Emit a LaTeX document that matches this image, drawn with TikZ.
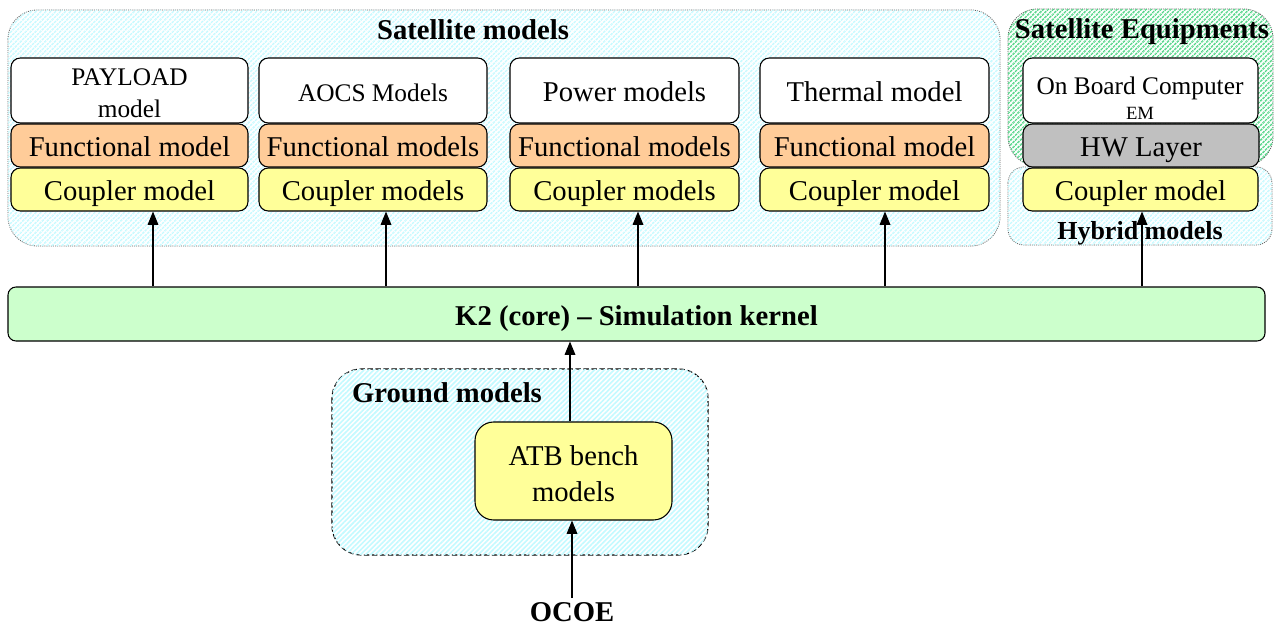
\documentclass[tikz,border=0pt]{standalone}
\usepackage{fontspec}
\setmainfont{Liberation Serif}
\usetikzlibrary{arrows.meta,patterns.meta}
\definecolor{orng}{HTML}{FFCC99}
\definecolor{yell}{HTML}{FFFF99}
\definecolor{hwgrey}{HTML}{C0C0C0}
\definecolor{kgreen}{HTML}{CCFFCC}
\definecolor{cyanline}{HTML}{C4FAFF}
\definecolor{grnline}{HTML}{4FD585}
\definecolor{bordergrey}{HTML}{606060}
\begin{document}
\begin{tikzpicture}[x=0.75pt,y=-0.75pt,
  big/.style={font=\fontsize{21.5}{26}\selectfont},
  mid/.style={font=\fontsize{19}{24}\selectfont},
  bigb/.style={font=\fontsize{21.5}{26}\selectfont\bfseries},
  midb/.style={font=\fontsize{19.5}{24}\selectfont\bfseries},
  one/.style={text height=17pt, text depth=0pt},
  mbox/.style={draw, rounded corners=7pt, inner sep=0pt, line width=0.8pt, align=center},
  cyancont/.style={draw=bordergrey, dash pattern=on 0.8pt off 0.8pt, line width=0.6pt, rounded corners=22pt,
     fill=white, postaction={pattern={Lines[angle=45,distance=2.6pt,line width=1.2pt]}, pattern color=cyanline}},
  grncont/.style={draw=bordergrey, dash pattern=on 0.8pt off 0.8pt, line width=0.6pt, rounded corners=22pt,
     fill=white, postaction={pattern={Lines[angle=45,distance=2.6pt,line width=1.2pt]}, pattern color=grnline}},
  gndcont/.style={draw=black, dash pattern=on 4pt off 2pt, line width=0.8pt, rounded corners=22pt,
     fill=white, postaction={pattern={Lines[angle=45,distance=2.6pt,line width=1.2pt]}, pattern color=cyanline}},
  arr/.style={-{Triangle[length=10pt,width=8pt]}, line width=0.9pt},
  txt/.style={inner sep=0pt}
]
\useasboundingbox (0,0) rectangle (1278,631);

% containers
\draw[cyancont] (8,10) rectangle (1000,246);
\draw[grncont] (1008,9) rectangle (1273,166);
\draw[cyancont, rounded corners=12pt] (1008,167) rectangle (1272,245);
\draw[gndcont] (332,369) rectangle (708,555);

% container titles
\node[txt, bigb] (satt) at (473,30) {Satellite models};
\node[txt, bigb] (eqt) at (1142,32) {Satellite Equipments};
\node[txt, midb] (hyt) at (1140,233) {Hybrid models};
\node[txt, bigb] (gnd) at (447,393) {Ground models};

% column 1
\node[mbox, fill=white, mid, minimum width=237*0.75pt, minimum height=65*0.75pt] (m1) at (129.5,90.5) {\rule{0pt}{16pt}PAYLOAD\\model};
\node[mbox, one, fill=orng, big, minimum width=237*0.75pt, minimum height=43*0.75pt] (f1) at (129.5,145.5) {Functional model};
\node[mbox, one, fill=yell, big, minimum width=237*0.75pt, minimum height=43*0.75pt] (c1) at (129.5,189.5) {Coupler model};
% column 2
\node[mbox, one, fill=white, mid, minimum width=228*0.75pt, minimum height=65*0.75pt] (m2) at (373,90.5) {AOCS Models};
\node[mbox, one, fill=orng, big, minimum width=228*0.75pt, minimum height=43*0.75pt] (f2) at (373,145.5) {Functional models};
\node[mbox, one, fill=yell, big, minimum width=228*0.75pt, minimum height=43*0.75pt] (c2) at (373,189.5) {Coupler models};
% column 3
\node[mbox, one, fill=white, big, minimum width=229*0.75pt, minimum height=65*0.75pt] (m3) at (624.5,90.5) {Power models};
\node[mbox, one, fill=orng, big, minimum width=229*0.75pt, minimum height=43*0.75pt] (f3) at (624.5,145.5) {Functional models};
\node[mbox, one, fill=yell, big, minimum width=229*0.75pt, minimum height=43*0.75pt] (c3) at (624.5,189.5) {Coupler models};
% column 4
\node[mbox, one, fill=white, big, minimum width=229*0.75pt, minimum height=65*0.75pt] (m4) at (874.5,90.5) {Thermal model};
\node[mbox, one, fill=orng, big, minimum width=229*0.75pt, minimum height=43*0.75pt] (f4) at (874.5,145.5) {Functional model};
\node[mbox, one, fill=yell, big, minimum width=229*0.75pt, minimum height=43*0.75pt] (c4) at (874.5,189.5) {Coupler model};
% column 5
\node[mbox, fill=white, minimum width=235*0.75pt, minimum height=65*0.75pt] (m5) at (1140.5,90.5) {};
\node[txt, mid, align=center] (obc) at (1140,98) {On Board Computer\\[-5pt]{\fontsize{14}{16}\selectfont EM}};
\node[mbox, one, fill=hwgrey, big, minimum width=236*0.75pt, minimum height=43*0.75pt] (hw) at (1141,145.5) {HW Layer};
\node[mbox, one, fill=yell, big, minimum width=235*0.75pt, minimum height=43*0.75pt] (c5) at (1140.5,189.5) {Coupler model};

% kernel
\node[draw, one, fill=kgreen, rounded corners=6pt, line width=0.8pt, bigb, minimum width=1257*0.75pt, minimum height=54*0.75pt, inner sep=0pt] (k2) at (636.5,314) {K2 (core) -- Simulation kernel};

% ground
\node[mbox, fill=yell, big, minimum width=197*0.75pt, minimum height=98*0.75pt, rounded corners=14pt, font=\fontsize{21.5}{27}\selectfont] (atb) at (573.5,471) {\rule{0pt}{19.5pt}ATB bench\\models};
\node[txt, bigb, inner sep=3pt] (ocoe) at (572,612) {OCOE};

% arrows
\coordinate (a1) at (153,0);
\coordinate (a2) at (386,0);
\coordinate (a3) at (638,0);
\coordinate (a4) at (885,0);
\coordinate (a5) at (1142,0);
\coordinate (g1) at (570,0);
\coordinate (g2) at (572,0);
\draw[arr] (k2.north -| a1) -- (c1.south -| a1);
\draw[arr] (k2.north -| a2) -- (c2.south -| a2);
\draw[arr] (k2.north -| a3) -- (c3.south -| a3);
\draw[arr] (k2.north -| a4) -- (c4.south -| a4);
\draw[arr] (k2.north -| a5) -- (c5.south -| a5);
\draw[arr] (atb.north -| g1) -- (k2.south -| g1);
\draw[arr] (ocoe.north -| g2) -- (atb.south -| g2);
\end{tikzpicture}
\end{document}
